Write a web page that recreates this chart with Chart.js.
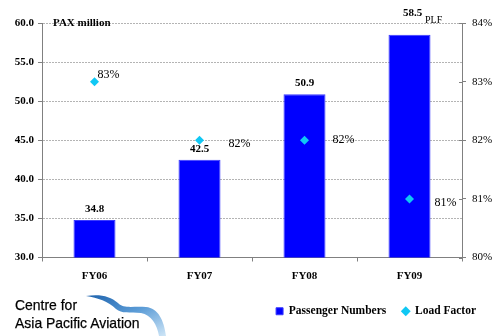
<!DOCTYPE html>
<html>
<head>
<meta charset="utf-8">
<script src="https://cdn.jsdelivr.net/npm/chart.js@4.4.1/dist/chart.umd.min.js"></script>
<style>
  html, body { margin: 0; padding: 0; background: #fff; }
  #wrap { position: relative; width: 500px; height: 336px; }
  #paxChart { position: absolute; left: 0; top: 0; }
  #logo { position: absolute; left: 0; top: 290px; width: 180px; height: 46px; }
  #logo .txt { position: absolute; left: 15px; font-family: "Liberation Sans", Arial, sans-serif;
               font-size: 15px; color: #000; transform-origin: 0 0; transform: scaleX(0.93);
               white-space: nowrap; -webkit-text-stroke: 0.25px #000; }
</style>
</head>
<body>
<div id="wrap">
  <canvas id="paxChart" width="500" height="336"></canvas>
  <div id="logo">
    <svg width="180" height="46" style="position:absolute;left:0;top:0">
      <defs>
        <linearGradient id="swoosh" x1="0" y1="0" x2="1" y2="1">
          <stop offset="0" stop-color="#1f63ad"/>
          <stop offset="0.5" stop-color="#5a9bd6"/>
          <stop offset="1" stop-color="#cfe6f7"/>
        </linearGradient>
      </defs>
      <path d="M86 6 C100 4 110 6 118 13 C124 19 132 16 146 17 C158 18 164 30 166 46 L159 46 C157 34 151 25 141 23 C129 22 122 24 116 19 C108 11 98 8 86 6 Z" fill="url(#swoosh)"/>
    </svg>
    <div class="txt" style="top:6px">Centre for</div>
    <div class="txt" style="top:24px">Asia Pacific Aviation</div>
  </div>
</div>
<script>
var categories = ["FY06", "FY07", "FY08", "FY09"];
var paxMillions = [34.8, 42.5, 50.9, 58.5];
var loadFactor = [83, 82, 82, 81];
var paxTicks = [30, 35, 40, 45, 50, 55, 60];
var lfTicks = [80, 81, 82, 83, 84];

var serif = "'Liberation Serif', 'Times New Roman', serif";
var axisGray = "#808080";

// value labels above bars, percent labels beside the diamonds
var valueLabels = {
    id: "valueLabels",
    afterDatasetsDraw: function(chart, args, opts) {
        var ctx = chart.ctx;
        var area = chart.chartArea;
        ctx.save();
        ctx.fillStyle = "#000";
        ctx.textBaseline = "middle";

        ctx.font = "bold 11px " + serif;
        ctx.textAlign = "center";
        chart.getDatasetMeta(1).data.forEach(function(bar, i) {
            var y = bar.y - 11;
            // keep the label off the top gridline
            if (y - area.top < 12) y = area.top - 10;
            ctx.fillText(paxMillions[i].toFixed(1), bar.x + (y < area.top ? 3 : 0), y);
        });

        ctx.font = "12px " + serif;
        ctx.textAlign = "left";
        chart.getDatasetMeta(0).data.forEach(function(pt, i) {
            var off = opts.offsets[i];
            ctx.fillText(loadFactor[i] + "%", pt.x + off[0], pt.y + off[1]);
        });

        // axis captions
        ctx.font = "bold 11px " + serif;
        ctx.fillText("PAX million", area.left + 11, area.top);
        ctx.font = "10px " + serif;
        ctx.fillText("PLF", area.right - 37, area.top - 3);

        // right axis tick marks cross the axis line
        var y1 = chart.scales.y1;
        ctx.strokeStyle = axisGray;
        ctx.lineWidth = 1;
        y1.ticks.forEach(function(t) {
            var py = Math.round(y1.getPixelForValue(t.value)) + 0.5;
            ctx.beginPath();
            ctx.moveTo(y1.left - 3, py);
            ctx.lineTo(y1.left, py);
            ctx.stroke();
        });
        ctx.restore();
    }
};

new Chart(document.getElementById("paxChart"), {
    type: "bar",
    data: {
        labels: categories,
        datasets: [{
            type: "line",
            label: "Load Factor",
            data: loadFactor,
            yAxisID: "y1",
            showLine: false,
            pointStyle: "rectRot",
            pointRadius: 4.5,
            pointHoverRadius: 4.5,
            backgroundColor: "#10c8f4",
            borderColor: "#10c8f4",
            borderWidth: 0,
            order: 0
        }, {
            label: "Passenger Numbers",
            data: paxMillions,
            yAxisID: "y",
            backgroundColor: "#0000ff",
            borderColor: "#3a3aff",
            borderWidth: 1,
            categoryPercentage: 1,
            barPercentage: 0.4,
            pointStyle: "rect",
            order: 1
        }]
    },
    plugins: [valueLabels],
    options: {
        responsive: false,
        animation: false,
        events: [],
        layout: { padding: { top: 23, right: 8, bottom: 9, left: 0 } },
        plugins: {
            tooltip: { enabled: false },
            valueLabels: { offsets: [[3, -7], [29, 4], [28, 0], [25, 4]] },
            legend: {
                position: "bottom",
                align: "end",
                reverse: true,
                labels: {
                    usePointStyle: true,
                    boxHeight: 7,
                    boxWidth: 7,
                    padding: 16,
                    color: "#000",
                    font: { family: serif, size: 11.5, weight: "bold" }
                }
            }
        },
        scales: {
            x: {
                grid: { display: true, drawOnChartArea: false, offset: true, color: axisGray, tickLength: 4 },
                border: { color: axisGray, width: 1 },
                ticks: { color: "#000", padding: 8, font: { family: serif, size: 11, weight: "bold" } },
                afterFit: function(scale) { scale.height = 32; }
            },
            y: {
                position: "left",
                min: paxTicks[0],
                max: paxTicks[paxTicks.length - 1],
                afterBuildTicks: function(scale) {
                    scale.ticks = paxTicks.map(function(v) { return { value: v }; });
                },
                grid: { color: "#b4b4b4", tickColor: axisGray, tickLength: 4, tickBorderDash: [] },
                border: { color: axisGray, width: 1, dash: [2, 1] },
                ticks: {
                    color: "#000", padding: 4,
                    font: { family: serif, size: 11, weight: "bold" },
                    callback: function(v) { return v.toFixed(1); }
                },
                afterFit: function(scale) { scale.width = 42; }
            },
            y1: {
                position: "right",
                min: lfTicks[0],
                max: lfTicks[lfTicks.length - 1],
                afterBuildTicks: function(scale) {
                    scale.ticks = lfTicks.map(function(v) { return { value: v }; });
                },
                grid: { drawOnChartArea: false, color: axisGray, tickLength: 4 },
                border: { color: axisGray, width: 1 },
                ticks: {
                    color: "#000", padding: 6,
                    font: { family: serif, size: 11 },
                    callback: function(v) { return v + "%"; }
                },
                afterFit: function(scale) { scale.width = 30; }
            }
        }
    }
});
</script>
</body>
</html>
